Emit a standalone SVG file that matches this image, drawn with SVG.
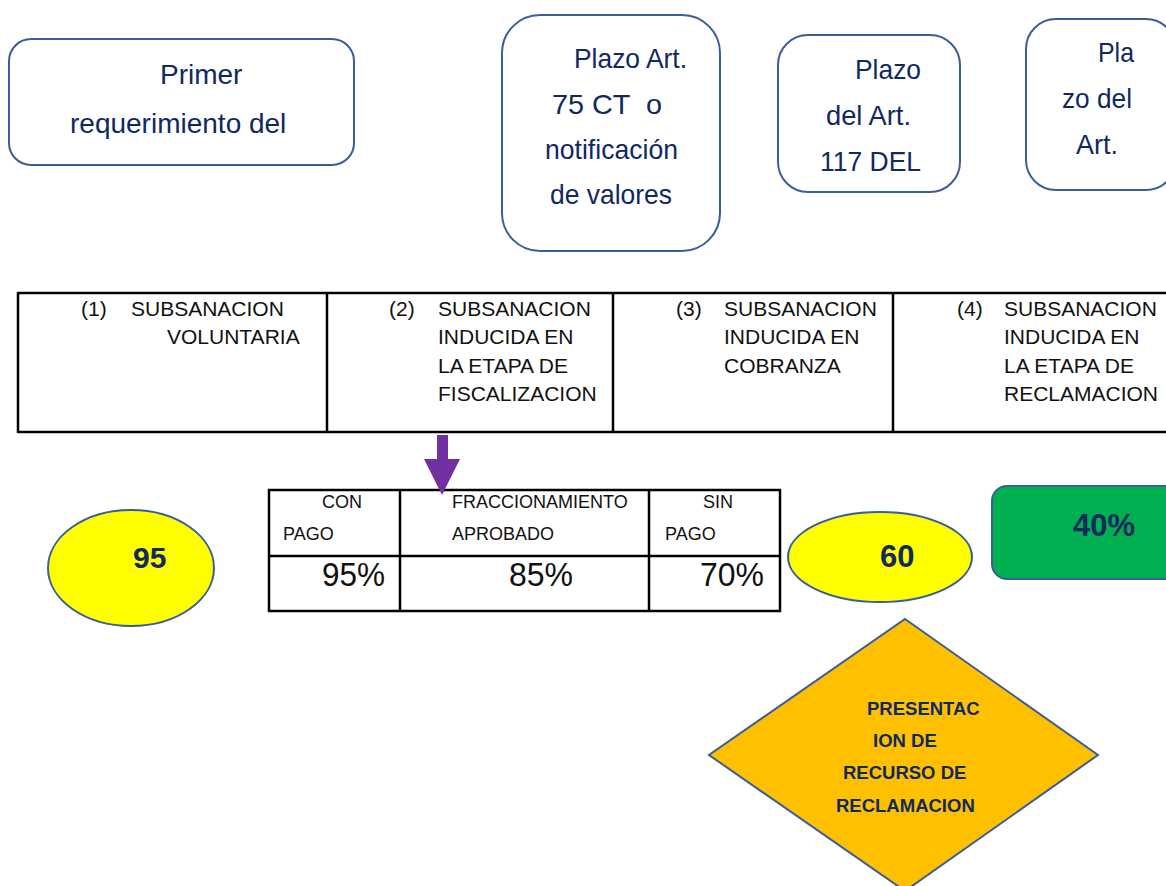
<svg xmlns="http://www.w3.org/2000/svg" width="1166" height="886" viewBox="0 0 1166 886">
  <style>
    .box { fill: #ffffff; stroke: #3A5D9C; stroke-width: 2; }
    .lbl { font-family: "Liberation Sans", Arial, sans-serif; fill: #10295F; }
    .big { font-size: 28px; }
    .cell { font-family: "Liberation Sans", Arial, sans-serif; font-size: 21px; fill: #111111; }
    .hdr { font-family: "Liberation Sans", Arial, sans-serif; font-size: 18px; fill: #111111; }
    .pct { font-family: "Liberation Sans", Arial, sans-serif; font-size: 33px; fill: #111111; }
    .bold { font-family: "Liberation Sans", Arial, sans-serif; font-weight: bold; fill: #10295F; }
    .grid { stroke: #000000; stroke-width: 2.5; fill: none; }
  </style>

  <rect width="1166" height="886" fill="#ffffff"/>

  <!-- top row of rounded boxes -->
  <g id="box-primer">
    <rect class="box" x="9" y="39" width="345" height="126" rx="22"/>
    <text class="lbl" x="160" y="84" font-size="28">Primer</text>
    <text class="lbl" x="70" y="133" font-size="28">requerimiento del</text>
  </g>

  <g id="box-art75">
    <rect class="box" x="502" y="15" width="218" height="236" rx="38"/>
    <text class="lbl big" x="574" y="68" textLength="113" lengthAdjust="spacingAndGlyphs">Plazo Art.</text>
    <text class="lbl big" x="552" y="114" textLength="110" lengthAdjust="spacingAndGlyphs" xml:space="preserve">75 CT  o</text>
    <text class="lbl big" x="545" y="159" textLength="133" lengthAdjust="spacingAndGlyphs">notificación</text>
    <text class="lbl big" x="550" y="204" textLength="122" lengthAdjust="spacingAndGlyphs">de valores</text>
  </g>

  <g id="box-art117">
    <rect class="box" x="778" y="35" width="182" height="157" rx="30"/>
    <text class="lbl big" x="855" y="79" textLength="66" lengthAdjust="spacingAndGlyphs">Plazo</text>
    <text class="lbl big" x="826" y="125" textLength="85" lengthAdjust="spacingAndGlyphs">del Art.</text>
    <text class="lbl big" x="820" y="171" textLength="101" lengthAdjust="spacingAndGlyphs">117 DEL</text>
  </g>

  <g id="box-art-right">
    <rect class="box" x="1026" y="19" width="150" height="171" rx="30"/>
    <text class="lbl big" x="1098" y="62" textLength="36" lengthAdjust="spacingAndGlyphs">Pla</text>
    <text class="lbl big" x="1062" y="108" textLength="70" lengthAdjust="spacingAndGlyphs">zo del</text>
    <text class="lbl big" x="1076" y="154" textLength="42" lengthAdjust="spacingAndGlyphs">Art.</text>
  </g>

  <!-- stage table -->
  <g id="stage-table">
    <line class="grid" x1="18" y1="293" x2="1166" y2="293"/>
    <line class="grid" x1="18" y1="432" x2="1166" y2="432"/>
    <line class="grid" x1="18" y1="292" x2="18" y2="433"/>
    <line class="grid" x1="327" y1="292" x2="327" y2="433"/>
    <line class="grid" x1="613" y1="292" x2="613" y2="433"/>
    <line class="grid" x1="893" y1="292" x2="893" y2="433"/>

    <text class="cell" x="81" y="316">(1)</text>
    <text class="cell" x="131" y="316">SUBSANACION</text>
    <text class="cell" x="167" y="344">VOLUNTARIA</text>

    <text class="cell" x="389" y="316">(2)</text>
    <text class="cell" x="438" y="316">SUBSANACION</text>
    <text class="cell" x="438" y="344">INDUCIDA EN</text>
    <text class="cell" x="438" y="373">LA ETAPA DE</text>
    <text class="cell" x="438" y="401">FISCALIZACION</text>

    <text class="cell" x="676" y="316">(3)</text>
    <text class="cell" x="724" y="316">SUBSANACION</text>
    <text class="cell" x="724" y="344">INDUCIDA EN</text>
    <text class="cell" x="724" y="373">COBRANZA</text>

    <text class="cell" x="957" y="316">(4)</text>
    <text class="cell" x="1004" y="316">SUBSANACION</text>
    <text class="cell" x="1004" y="344">INDUCIDA EN</text>
    <text class="cell" x="1004" y="373">LA ETAPA DE</text>
    <text class="cell" x="1004" y="401">RECLAMACION</text>
  </g>

  <!-- discount table -->
  <g id="discount-table">
    <rect class="grid" x="269" y="490" width="511" height="121"/>
    <line class="grid" x1="269" y1="556" x2="780" y2="556"/>
    <line class="grid" x1="400" y1="490" x2="400" y2="611"/>
    <line class="grid" x1="649" y1="490" x2="649" y2="611"/>

    <text class="hdr" x="322" y="508">CON</text>
    <text class="hdr" x="283" y="540">PAGO</text>
    <text class="hdr" x="452" y="508">FRACCIONAMIENTO</text>
    <text class="hdr" x="452" y="540">APROBADO</text>
    <text class="hdr" x="703" y="508">SIN</text>
    <text class="hdr" x="665" y="540">PAGO</text>

    <text class="pct" x="322" y="586" textLength="63" lengthAdjust="spacingAndGlyphs">95%</text>
    <text class="pct" x="509" y="586" textLength="64" lengthAdjust="spacingAndGlyphs">85%</text>
    <text class="pct" x="700" y="586" textLength="64" lengthAdjust="spacingAndGlyphs">70%</text>
  </g>

  <g id="ellipse-95">
    <ellipse cx="131" cy="568" rx="83" ry="58" fill="#FFFF00" stroke="#3A5D9C" stroke-width="2"/>
    <text class="bold" x="133" y="568" font-size="30">95</text>
  </g>

  <g id="ellipse-60">
    <ellipse cx="880" cy="557" rx="92" ry="45" fill="#FFFF00" stroke="#3A5D9C" stroke-width="2"/>
    <text class="bold" x="880" y="567" font-size="31">60</text>
  </g>

  <g id="box-40">
    <rect x="992" y="486" width="190" height="93" rx="15" fill="#00B050" stroke="#3A5D9C" stroke-width="2"/>
    <text class="bold" x="1073" y="536" font-size="31">40%</text>
  </g>

  <g id="diamond-reclamacion">
    <polygon points="905,619 1098,755 905,891 709,755" fill="#FFC000" stroke="#3A5D9C" stroke-width="2"/>
    <text class="bold" x="867" y="715" font-size="18.5">PRESENTAC</text>
    <text class="bold" x="873" y="747" font-size="18.5">ION DE</text>
    <text class="bold" x="843" y="779" font-size="18.5">RECURSO DE</text>
    <text class="bold" x="836" y="812" font-size="18.5">RECLAMACION</text>
  </g>

  <!-- connectors -->
  <g id="connectors">
    <polygon points="437,435 448,435 448,459 460,459 442,495 424,459 437,459" fill="#7030A0"/>
  </g>
</svg>
